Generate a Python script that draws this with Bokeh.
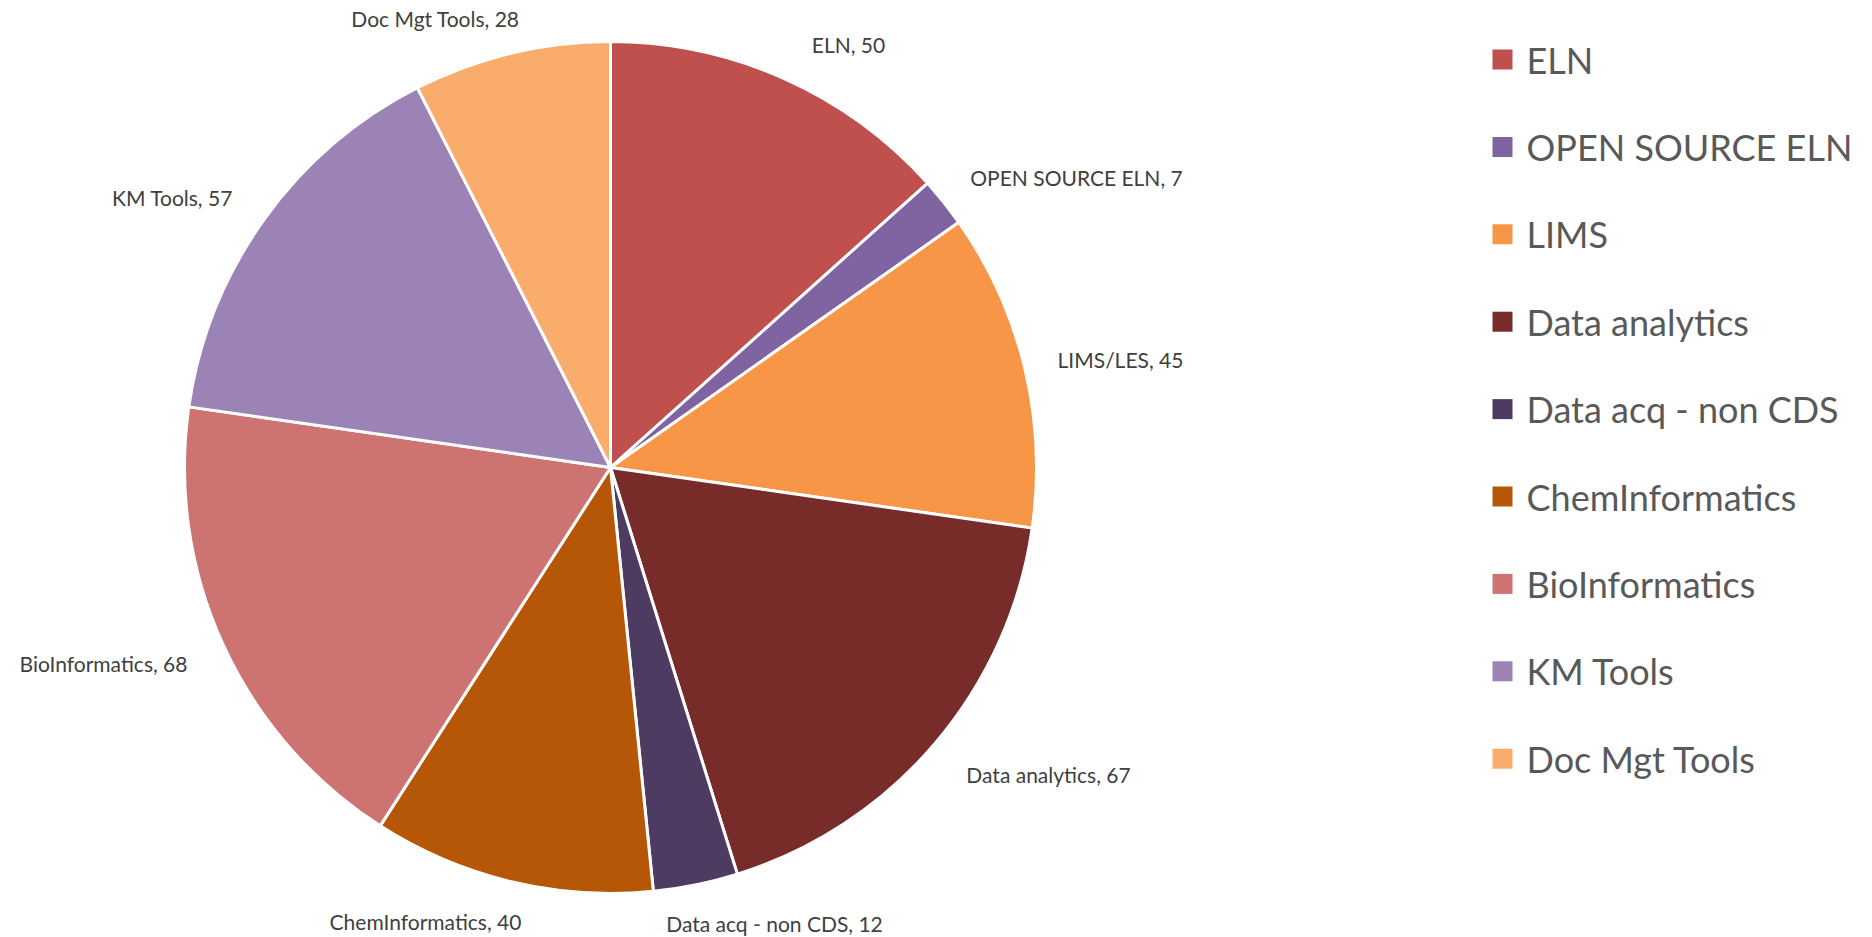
import math
from bokeh.plotting import figure
from bokeh.models import Range1d, ColumnDataSource
from bokeh.core.properties import value
from bokeh.embed import file_html
from bokeh.resources import INLINE

# ---- data ----
categories = ["ELN", "OPEN SOURCE ELN", "LIMS", "Data analytics", "Data acq - non CDS",
              "ChemInformatics", "BioInformatics", "KM Tools", "Doc Mgt Tools"]
label_names = ["ELN", "OPEN SOURCE ELN", "LIMS/LES", "Data analytics", "Data acq - non CDS",
               "ChemInformatics", "BioInformatics", "KM Tools", "Doc Mgt Tools"]
counts = [50, 7, 45, 67, 12, 40, 68, 57, 28]
colors = ["#C0504D", "#8064A2", "#F79646", "#772C2A", "#4D3B62",
          "#B65708", "#CD7371", "#9B83B5", "#F9AC6B"]

# ---- layout (pixel space, y measured downward from top) ----
W, H = 1872, 937
CX, CY, R = 610, 467, 426
label_px = [(848, 44), (1076, 177), (1120, 359), (1048, 774), (774, 923),
            (425, 921), (103, 663), (172, 197), (435, 18)]
legend_x, legend_y0, legend_dy = 1502, 59, 87.4

total = sum(counts)
starts, ends = [], []
cum = 0
for v in counts:
    starts.append(math.pi / 2 - 2 * math.pi * cum / total)
    cum += v
    ends.append(math.pi / 2 - 2 * math.pi * cum / total)

p = figure(width=W, height=H, output_backend="svg", toolbar_location=None,
           x_range=Range1d(0, W), y_range=Range1d(0, H), min_border=0)
p.axis.visible = False
p.grid.visible = False
p.outline_line_color = None
p.background_fill_color = "white"
p.border_fill_color = "white"

src = ColumnDataSource(dict(start=starts, end=ends, color=colors, cat=categories, val=counts))
p.wedge(x=CX, y=H - CY, radius=R, start_angle="start", end_angle="end", direction="clock",
        fill_color="color", line_color="white", line_width=3, source=src)

lab = ColumnDataSource(dict(
    x=[q[0] for q in label_px], y=[H - q[1] for q in label_px],
    t=[f"{n}, {v}" for n, v in zip(label_names, counts)]))
p.text(x="x", y="y", text="t", source=lab, text_align="center", text_baseline="middle",
       text_font=value("Lato"), text_font_size="21px", text_color="#404040")

# legend
ly = [H - (legend_y0 + i * legend_dy) for i in range(len(categories))]
leg = ColumnDataSource(dict(x=[legend_x] * len(categories), y=ly, color=colors,
                            tx=[legend_x + 24] * len(categories), t=categories))
p.scatter(x="x", y="y", marker="square", size=20, fill_color="color", line_color=None, source=leg)
p.text(x="tx", y="y", text="t", source=leg, text_align="left", text_baseline="middle",
       text_font=value("Lato"), text_font_size="36px", text_color="#595959")

open("out.html", "w").write(file_html(p, INLINE))
